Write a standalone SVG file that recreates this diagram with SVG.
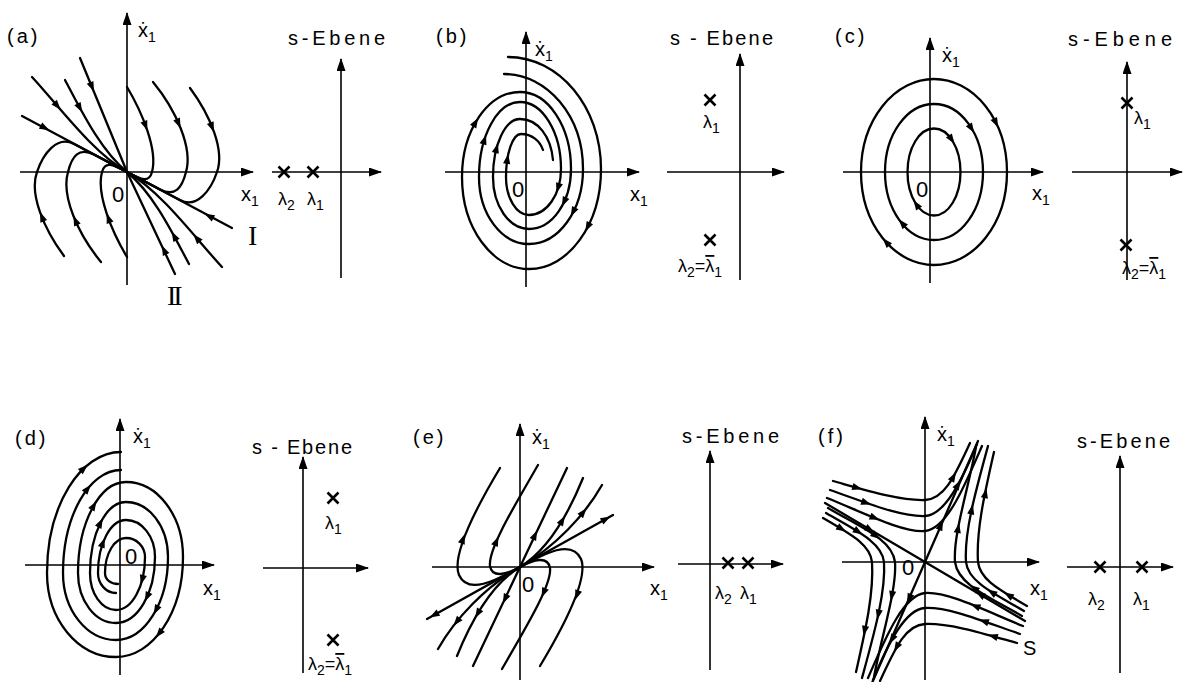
<svg xmlns="http://www.w3.org/2000/svg" width="1183" height="682" viewBox="0 0 1183 682">
<style>
.ax{stroke:#000;stroke-width:1.6;fill:none;marker-end:url(#ah)}
.tr{stroke:#000;stroke-width:2.3;fill:none;stroke-linecap:round;stroke-linejoin:round}
.t{font-family:"Liberation Sans","DejaVu Sans",sans-serif;font-size:20px;fill:#000}
.z{font-family:"Liberation Sans Narrow","Liberation Sans","DejaVu Sans",sans-serif;font-size:22px;fill:#000}
.sub{font-size:14px}
.lam{font-size:18px}
.ob{text-decoration:overline}
.rm{font-family:"Liberation Serif","DejaVu Serif",serif;font-size:28px;fill:#000}
</style>
<defs>
<marker id="ah" markerWidth="13" markerHeight="9" refX="12" refY="4.5" orient="auto" markerUnits="userSpaceOnUse"><path d="M0,0 L13,4.5 L0,9 Z" fill="#000"/></marker>
<path id="ta" d="M5,0 L-5,-3.6 L-5,3.6 Z" fill="#000"/>
<path id="cr" d="M-5.5,-5.5 L5.5,5.5 M-5.5,5.5 L5.5,-5.5" stroke="#000" stroke-width="2.6" fill="none"/>
</defs>
<rect width="1183" height="682" fill="#fff"/>

<!-- (a) -->
<g id="panel-a">
<g id="a-axes"><line class="ax" x1="127" y1="285" x2="127" y2="13"/><line class="ax" x1="20" y1="172" x2="253" y2="172"/></g>
<g id="a-half">
<path class="tr" d="M22,116 L127,172"/>
<path class="tr" d="M32,77 C58,105 92,152 127,172"/>
<path class="tr" d="M65,80 C80,108 100,150 127,172"/>
<path class="tr" d="M127,87 C142,112 158,150 152,172 C149,183 142,180 127,172"/>
<path class="tr" d="M153,82 C176,110 193,148 186,172 C182,188 175,197 160,189.5 L127,172"/>
<path class="tr" d="M190,88 C210,115 225,150 217,172 C211,190 197,209 180,200 L127,172"/>
<use href="#ta" transform="translate(45,128) rotate(28)"/>
<use href="#ta" transform="translate(57.4,106) rotate(49.5)"/>
<use href="#ta" transform="translate(79.9,108) rotate(61.3)"/>
<use href="#ta" transform="translate(145.6,125.9) rotate(70)"/>
<use href="#ta" transform="translate(178.6,123.6) rotate(66.5)"/>
<use href="#ta" transform="translate(212.1,127.3) rotate(68.4)"/>
</g>
<use href="#a-half" transform="rotate(180 127 172)"/>
<path class="tr" d="M80,58 L127,172 L175,274"/>
<use href="#ta" transform="translate(92,87) rotate(67.6)"/>
<use href="#ta" transform="translate(164,250) rotate(245)"/>
<text class="t" x="7" y="43" letter-spacing="3">(a)</text>
<text class="t" x="138" y="37">ẋ<tspan class="sub" dy="5">1</tspan></text>
<text class="z" x="112" y="202">0</text>
<text class="t" x="241" y="201">x<tspan class="sub" dy="5">1</tspan></text>
<text class="rm" x="248" y="245">I</text>
<text class="rm" x="167" y="305" letter-spacing="-3">II</text>
<g id="a-s">
<line class="ax" x1="341" y1="278" x2="341" y2="59"/><line class="ax" x1="272" y1="172" x2="381" y2="172"/>
<use href="#cr" transform="translate(284,172)"/><use href="#cr" transform="translate(313,172)"/>
<text class="t" x="288" y="45" textLength="97">s-Ebene</text>
<text class="t lam" x="278" y="205">λ<tspan class="sub" dy="5">2</tspan></text>
<text class="t lam" x="307" y="205">λ<tspan class="sub" dy="5">1</tspan></text>
</g>
</g>

<!-- (b) -->
<g id="panel-b">
<g id="b-axes"><line class="ax" x1="526" y1="287" x2="526" y2="32"/><line class="ax" x1="445" y1="172" x2="639" y2="172"/></g>
<g id="b-curves">
<path class="tr" d="M508,57 C559.3,57 601,107.2 601,169 C601,224.2 568.7,269 529,269 C492,269 462,227.8 462,177 C462,130.1 488,92 520,92 C548.2,92 571,126.5 571,169 C571,202.1 552.2,229 529,229 C509.1,229 493,205.7 493,177 C493,145 505.1,119 520,119 C538,119 551,137 553,160"/>
<path class="tr" d="M504,74 C547.6,74 583,116.6 583,169 C583,210.4 558.8,244 529,244 C501.4,244 479,214 479,177 C479,135.6 497.4,102 520,102 C542.6,102 561,132 561,169 C561,194.4 546.7,215 529,215 C516.3,215 506,198 506,177 C506,153.3 512.7,134 521,134 C532,134 540,141 543,150"/>
<use href="#ta" transform="translate(475.6,122.3) rotate(-60)"/>
<use href="#ta" transform="translate(484.5,139.5) rotate(-72.5)"/>
<use href="#ta" transform="translate(496.6,148) rotate(-75)"/>
<use href="#ta" transform="translate(507.4,158.8) rotate(-81)"/>
<use href="#ta" transform="translate(587.6,227) rotate(117)"/>
<use href="#ta" transform="translate(573,212) rotate(117)"/>
<use href="#ta" transform="translate(564,202) rotate(115)"/>
<use href="#ta" transform="translate(558,188) rotate(107.5)"/>
</g>
<text class="t" x="436" y="43" letter-spacing="3">(b)</text>
<text class="t" x="535" y="56">ẋ<tspan class="sub" dy="5">1</tspan></text>
<text class="z" x="512" y="197">0</text>
<text class="t" x="630" y="201">x<tspan class="sub" dy="5">1</tspan></text>
<g id="b-s">
<line class="ax" x1="740" y1="280" x2="740" y2="54"/><line class="ax" x1="667" y1="172" x2="784" y2="172"/>
<use href="#cr" transform="translate(710,100)"/><use href="#cr" transform="translate(710,240)"/>
<text class="t" x="670" y="45" textLength="103">s - Ebene</text>
<text class="t lam" x="703" y="128">λ<tspan class="sub" dy="5">1</tspan></text>
<text class="t lam" x="678" y="272">λ<tspan class="sub" dy="5">2</tspan><tspan dy="-5">=</tspan><tspan class="ob">λ</tspan><tspan class="sub" dy="5">1</tspan></text>
</g>
</g>

<!-- (c) -->
<g id="panel-c">
<g id="c-axes"><line class="ax" x1="930" y1="283" x2="930" y2="38"/><line class="ax" x1="843" y1="172" x2="1043" y2="172"/></g>
<g id="c-curves">
<ellipse class="tr" cx="934" cy="172" rx="73" ry="93"/>
<ellipse class="tr" cx="934" cy="172" rx="49" ry="68"/>
<ellipse class="tr" cx="934" cy="172" rx="26.5" ry="43.5"/>
<use href="#ta" transform="translate(996,123) rotate(64)"/>
<use href="#ta" transform="translate(971.5,128.6) rotate(58.6)"/>
<use href="#ta" transform="translate(951.7,139.7) rotate(55.9)"/>
<use href="#ta" transform="translate(916.3,204.3) rotate(235.9)"/>
<use href="#ta" transform="translate(902,223) rotate(230)"/>
<use href="#ta" transform="translate(886,242) rotate(228)"/>
</g>
<text class="t" x="835" y="43" letter-spacing="3">(c)</text>
<text class="t" x="942" y="62">ẋ<tspan class="sub" dy="5">1</tspan></text>
<text class="z" x="916" y="197">0</text>
<text class="t" x="1032" y="200">x<tspan class="sub" dy="5">1</tspan></text>
<g id="c-s">
<line class="ax" x1="1127" y1="280" x2="1127" y2="62"/><line class="ax" x1="1072" y1="172" x2="1182" y2="172"/>
<use href="#cr" transform="translate(1127,103)"/><use href="#cr" transform="translate(1126,245)"/>
<text class="t" x="1068" y="46" font-size="22" textLength="104">s-Ebene</text>
<text class="t lam" x="1134" y="124">λ<tspan class="sub" dy="5">1</tspan></text>
<text class="t lam" x="1122" y="274">λ<tspan class="sub" dy="5">2</tspan><tspan dy="-5">=</tspan><tspan class="ob">λ</tspan><tspan class="sub" dy="5">1</tspan></text>
</g>
</g>

<!-- (d) -->
<g id="panel-d">
<g id="d-axes"><line class="ax" x1="120" y1="675" x2="120" y2="419"/><line class="ax" x1="25" y1="565" x2="214" y2="565"/></g>
<g id="d-curves">
<path class="tr" d="M116,593 C106.1,593 98,584 98,573 C98,543.7 110.5,520 126,520 C142,520 155,536.6 155,557 C155,593.4 137.5,623 116,623 C95,623 78,600.6 78,573 C78,522.8 99.5,482 126,482 C157.5,482 183,515.6 183,557 C183,612.2 153,657 116,657 C77.9,657 47,619.4 47,573 C47,506.2 80.2,452 121,452"/>
<path class="tr" d="M118,584 C111,584 105,580 105,573 C105,553.7 114.4,538 126,538 C136.5,538 145,546.5 145,557 C145,586.3 132,610 116,610 C101.6,610 90,593.4 90,573 C90,533.8 106.1,502 126,502 C149.2,502 168,526.6 168,557 C168,602.8 144.7,640 116,640 C86.7,640 63,610 63,573 C63,516.1 89,470 121,470"/>
<use href="#ta" transform="translate(84,468.2) rotate(-43.3)"/>
<use href="#ta" transform="translate(87.7,488.6) rotate(-51.2)"/>
<use href="#ta" transform="translate(93.9,505.4) rotate(-59.6)"/>
<use href="#ta" transform="translate(100.5,522.8) rotate(-63)"/>
<use href="#ta" transform="translate(103,542.6) rotate(-69.7)"/>
<use href="#ta" transform="translate(142.1,580) rotate(104.8)"/>
<use href="#ta" transform="translate(147,597) rotate(114.2)"/>
<use href="#ta" transform="translate(156,610) rotate(117.5)"/>
<use href="#ta" transform="translate(159,633.6) rotate(128.6)"/>
</g>
<text class="t" x="15" y="445" letter-spacing="3">(d)</text>
<text class="t" x="133" y="443">ẋ<tspan class="sub" dy="5">1</tspan></text>
<text class="z" x="125" y="564">0</text>
<text class="t" x="203" y="595">x<tspan class="sub" dy="5">1</tspan></text>
<g id="d-s">
<line class="ax" x1="303" y1="673" x2="303" y2="457"/><line class="ax" x1="263" y1="568" x2="368" y2="568"/>
<use href="#cr" transform="translate(333,498)"/><use href="#cr" transform="translate(333,640)"/>
<text class="t" x="252" y="454" textLength="100">s - Ebene</text>
<text class="t lam" x="325" y="529">λ<tspan class="sub" dy="5">1</tspan></text>
<text class="t lam" x="308" y="670">λ<tspan class="sub" dy="5">2</tspan><tspan dy="-5">=</tspan><tspan class="ob">λ</tspan><tspan class="sub" dy="5">1</tspan></text>
</g>
</g>

<!-- (e) -->
<g id="panel-e">
<g id="e-axes"><line class="ax" x1="520" y1="680" x2="520" y2="424"/><line class="ax" x1="432" y1="567" x2="654" y2="567"/></g>
<g id="e-half">
<path class="tr" d="M520,567 L613,515"/>
<path class="tr" d="M520,567 L567,468"/>
<path class="tr" d="M520,567 C548,550 568,515 583,478"/>
<path class="tr" d="M520,567 C555,547 585,515 602,485"/>
<path class="tr" d="M520,567 C506,575 492,578 490,566 C488,550 512,510 538,465"/>
<path class="tr" d="M520,567 C495,581 468,595 459,575 C452,558 470,518 500,468"/>
<use href="#ta" transform="translate(606,519) rotate(-29.2)"/>
<use href="#ta" transform="translate(535,535) rotate(-64.7)"/>
<use href="#ta" transform="translate(562.4,520.4) rotate(-59.3)"/>
<use href="#ta" transform="translate(583.4,512.2) rotate(-51.1)"/>
<use href="#ta" transform="translate(496.5,541.1) rotate(-66.4)"/>
<use href="#ta" transform="translate(463.1,538.8) rotate(-69.8)"/>
</g>
<use href="#e-half" transform="rotate(180 520 567)"/>
<text class="t" x="413" y="444" letter-spacing="3">(e)</text>
<text class="t" x="532" y="444">ẋ<tspan class="sub" dy="5">1</tspan></text>
<text class="z" x="522" y="592">0</text>
<text class="t" x="650" y="595">x<tspan class="sub" dy="5">1</tspan></text>
<g id="e-s">
<line class="ax" x1="710" y1="670" x2="710" y2="451"/><line class="ax" x1="678" y1="564" x2="783" y2="564"/>
<use href="#cr" transform="translate(728,563)"/><use href="#cr" transform="translate(748,563)"/>
<text class="t" x="682" y="443" textLength="97">s-Ebene</text>
<text class="t lam" x="715" y="599">λ<tspan class="sub" dy="5">2</tspan></text>
<text class="t lam" x="740" y="599">λ<tspan class="sub" dy="5">1</tspan></text>
</g>
</g>

<!-- (f) -->
<g id="panel-f">
<g id="f-axes"><line class="ax" x1="925" y1="680" x2="925" y2="417"/><line class="ax" x1="842" y1="562" x2="1039" y2="562"/></g>
<g id="f-half">
<path class="tr" d="M825,503 L925,562"/>
<path class="tr" d="M925,562 L978,441"/>
<path class="tr" d="M833,481 C865,490 900,501 925,500 C945,499 955,475 970,443"/>
<path class="tr" d="M830,490 C865,502 900,517 925,516 C945,515 962,480 977,444"/>
<path class="tr" d="M827,498 C862,512 903,533 925,531 C947,529 965,485 982,446"/>
<path class="tr" d="M1022,616 C990,597 958,585 955,562 C953,535 968,490 976,447"/>
<path class="tr" d="M1024,611 C995,594 968,582 966,562 C964,532 976,490 988,446"/>
<path class="tr" d="M1027,606 C1000,590 980,580 978,562 C976,530 985,492 994,452"/>
<use href="#ta" transform="translate(870,529.6) rotate(30.5)"/>
<use href="#ta" transform="translate(941,525.3) rotate(-66.3)"/>
<use href="#ta" transform="translate(857.3,487.9) rotate(15.6)"/>
<use href="#ta" transform="translate(953.5,476.6) rotate(-60)"/>
<use href="#ta" transform="translate(866.3,502.9) rotate(19.2)"/>
<use href="#ta" transform="translate(958,484.6) rotate(-60.8)"/>
<use href="#ta" transform="translate(874.8,517.9) rotate(21.9)"/>
<use href="#ta" transform="translate(973.9,588) rotate(215.7)"/>
<use href="#ta" transform="translate(958.2,527.9) rotate(-79.4)"/>
<use href="#ta" transform="translate(991.6,592.2) rotate(212.5)"/>
<use href="#ta" transform="translate(971.75,509.25) rotate(-77.9)"/>
<use href="#ta" transform="translate(1008.3,595) rotate(211.4)"/>
<use href="#ta" transform="translate(985.4,493.1) rotate(-78.6)"/>
</g>
<use href="#f-half" transform="rotate(180 925 562)"/>
<text class="t" x="818" y="443" letter-spacing="3">(f)</text>
<text class="t" x="937" y="441">ẋ<tspan class="sub" dy="5">1</tspan></text>
<text class="z" x="902" y="575">0</text>
<text class="t" x="1030" y="595">x<tspan class="sub" dy="5">1</tspan></text>
<text class="t" x="1023" y="655" font-size="24">S</text>
<g id="f-s">
<line class="ax" x1="1120" y1="673" x2="1120" y2="456"/><line class="ax" x1="1067" y1="567" x2="1173" y2="567"/>
<use href="#cr" transform="translate(1100,567)"/><use href="#cr" transform="translate(1142,567)"/>
<text class="t" x="1077" y="448" textLength="93">s-Ebene</text>
<text class="t lam" x="1088" y="605">λ<tspan class="sub" dy="5">2</tspan></text>
<text class="t lam" x="1133" y="605">λ<tspan class="sub" dy="5">1</tspan></text>
</g>
</g>
</svg>
